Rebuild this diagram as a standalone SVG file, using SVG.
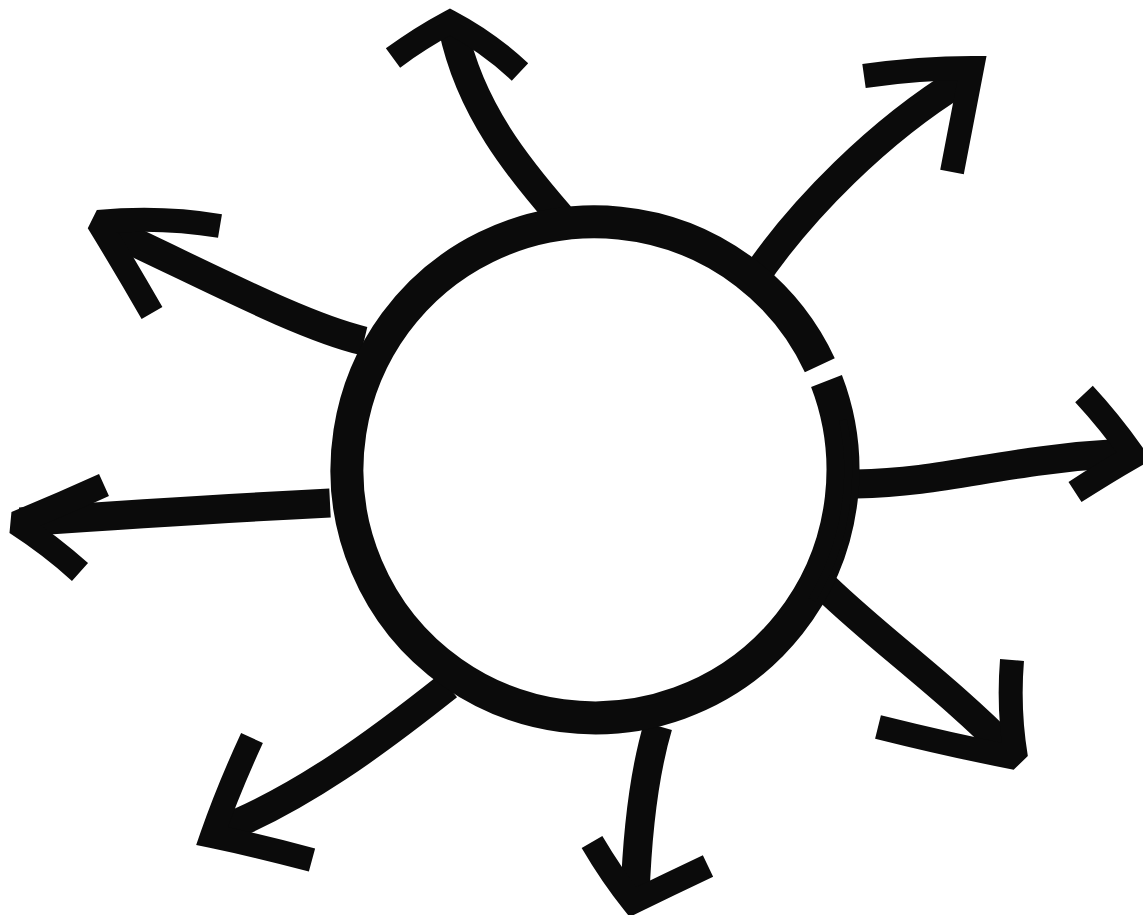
<svg xmlns="http://www.w3.org/2000/svg" width="1143" height="915" viewBox="0 0 1143 915">
<style>
.ring{fill:none;stroke:#0b0b0b;stroke-width:33;stroke-linecap:butt}
.shaft{fill:none;stroke:#0b0b0b;stroke-width:29;stroke-linecap:butt}
.head{fill:none;stroke:#0b0b0b;stroke-width:24;stroke-linecap:butt;stroke-linejoin:miter;stroke-miterlimit:1.6}
</style>
<rect width="1143" height="915" fill="#ffffff"/>
<g id="connectors">
  <g id="arrow-top">
    <path class="shaft" d="M560,216 C520,170 470,110 453,28"/>
    <path class="head" d="M393,58 Q420,38 450,22 Q488,42 520,72"/>
  </g>
  <g id="arrow-top-right">
    <path class="shaft" d="M752,282 C800,210 880,130 962,80"/>
    <path class="head" d="M864,76 Q920,68 972,68 Q962,120 952,172"/>
  </g>
  <g id="arrow-right">
    <path class="shaft" d="M856,484 C950,482 1000,460 1124,453"/>
    <path class="head" d="M1084,394 Q1110,422 1134,456 Q1106,472 1075,492"/>
  </g>
  <g id="arrow-bottom-right">
    <path class="shaft" d="M826,588 C880,640 950,690 1010,752"/>
    <path class="head" d="M878,727 Q950,745 1016,758 Q1008,710 1012,660"/>
  </g>
  <g id="arrow-bottom">
    <path class="shaft" d="M658,726 C642,780 637,840 635,896"/>
    <path class="head" d="M592,842 Q612,876 633,902 Q670,884 708,866"/>
  </g>
  <g id="arrow-bottom-left">
    <path class="shaft" d="M448,686 C380,740 300,800 216,832"/>
    <path class="head" d="M252,738 Q228,790 212,836 Q260,846 312,860"/>
  </g>
  <g id="arrow-left">
    <path class="shaft" d="M330,503 C230,508 120,515 20,522"/>
    <path class="head" d="M104,485 Q60,505 16,523 Q50,545 80,572"/>
  </g>
  <g id="arrow-top-left">
    <path class="shaft" d="M364,341 C300,326 200,272 102,227"/>
    <path class="head" d="M220,226 Q160,216 98,222 Q125,266 152,313"/>
  </g>
</g>
<g id="node-circle">
  <path class="ring" d="M826.5,381 A248,248 0 1 1 819.8,365.2"/>
  <path class="ring" style="stroke-width:8" d="M843,420 A248,248 0 0 1 812,600"/>
</g>
</svg>
